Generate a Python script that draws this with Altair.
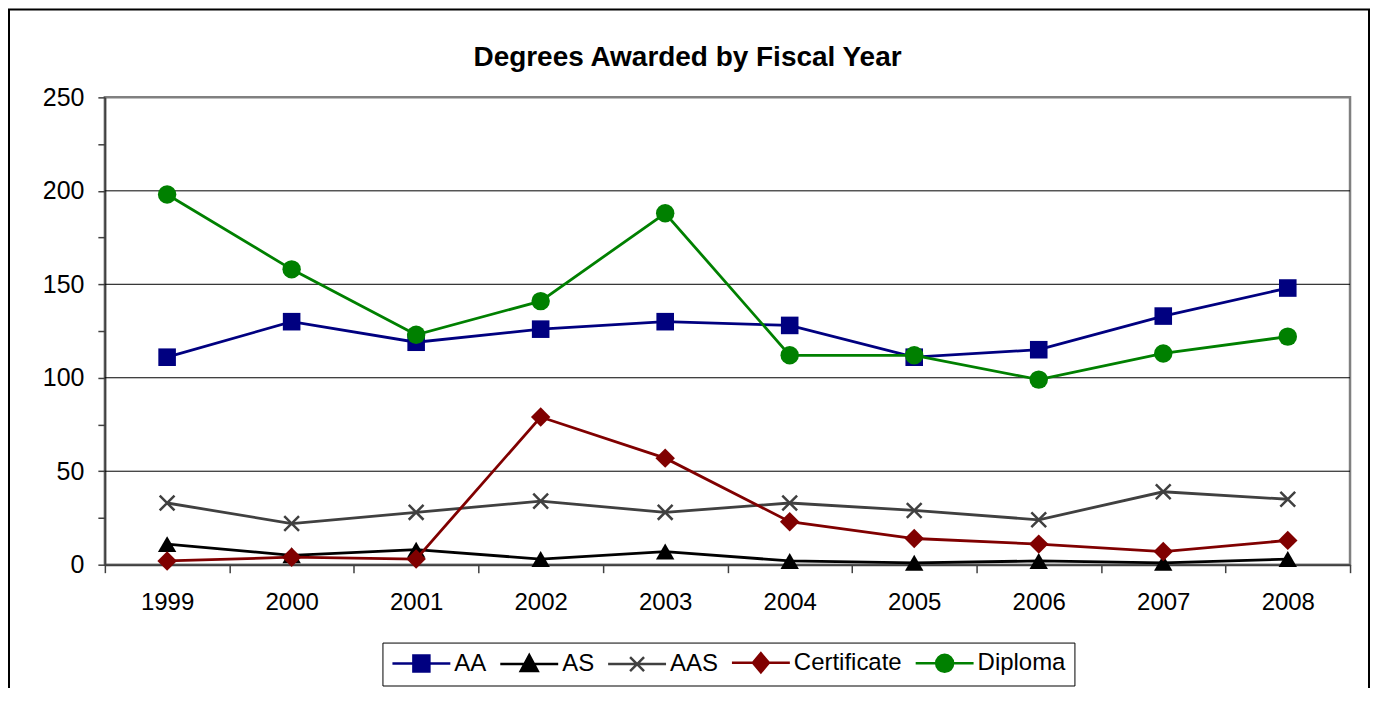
import altair as alt
import pandas as pd

years = [1999, 2000, 2001, 2002, 2003, 2004, 2005, 2006, 2007, 2008]
series_names = ["AA", "AS", "AAS", "Certificate", "Diploma"]
aa = [111, 130, 119, 126, 130, 128, 111, 115, 133, 148]
as_ = [11, 5, 8, 3, 7, 2, 1, 2, 1, 3]
aas = [33, 22, 28, 34, 28, 33, 29, 24, 39, 35]
certificate = [2, 4, 3, 79, 57, 23, 14, 11, 7, 13]
diploma = [198, 158, 123, 141, 188, 112, 112, 99, 113, 122]
grid_values = [50, 100, 150, 200]
x_tick_values = [1998.5, 1999.5, 2000.5, 2001.5, 2002.5, 2003.5, 2004.5, 2005.5, 2006.5, 2007.5, 2008.5]
y_tick_values = [0, 25, 50, 75, 100, 125, 150, 175, 200, 225, 250]

colors = ["#000080", "#000000", "#404040", "#800000", "#008000"]
X_PATH = "M-1,-1L1,1M-1,1L1,-1"
point_shapes = ["square", "triangle-up", X_PATH, "diamond", "circle"]
point_sizes = [310, 340, 220, 380, 340]
point_filled = [True, True, False, True, True]

legend_paths = [
    "M-2.9,0L2.9,0M-0.8,-0.8L0.8,-0.8L0.8,0.8L-0.8,0.8Z",
    "M-2.9,0L2.9,0M0,-0.9L0.85,0.7L-0.85,0.7Z",
    "M-2.9,0L2.9,0M-0.7,-0.7L0.7,0.7M-0.7,0.7L0.7,-0.7",
    "M-2.9,0L2.9,0M0,-0.95L0.8,0L0,0.95L-0.8,0Z",
    "M-2.9,0L2.9,0M0.85,0A0.85,0.85 0 1,1 -0.85,0A0.85,0.85 0 1,1 0.85,0Z",
]

values = [aa, as_, aas, certificate, diploma]
rows = []
for name, vals in zip(series_names, values):
    for yr, v in zip(years, vals):
        rows.append({"year": yr, "series": name, "value": v})
df = pd.DataFrame(rows)

FONT = "Liberation Sans"
W, H = 1247, 468
BAND = W / 10

x_enc = alt.X(
    "year:Q",
    scale=alt.Scale(domain=[1998.5, 2008.5], nice=False, zero=False),
    axis=alt.Axis(
        values=x_tick_values,
        labelExpr="datum.value < 2008 ? toString(datum.value + 0.5) : ''",
        labelOffset=BAND / 2,
        labelAlign="center",
        labelBound=False,
        labelFlush=False,
        labelOverlap=False,
        labelFont=FONT,
        labelFontSize=24,
        labelColor="#000000",
        labelPadding=18,
        tickSize=8,
        tickColor="#404040",
        tickWidth=1.5,
        domainColor="#404040",
        domainWidth=2,
        grid=False,
        title=None,
    ),
)
y_enc = alt.Y(
    "value:Q",
    scale=alt.Scale(domain=[0, 250], nice=False),
    axis=alt.Axis(
        values=y_tick_values,
        labelExpr="datum.value % 50 == 0 ? datum.label : ''",
        labelFont=FONT,
        labelFontSize=25,
        labelColor="#000000",
        labelPadding=14,
        labelOverlap=False,
        labelBound=False,
        labelFlush=False,
        tickSize=7,
        tickColor="#404040",
        tickWidth=1.5,
        domainColor="#404040",
        domainWidth=2,
        grid=False,
        title=None,
    ),
)

frame = alt.Chart(pd.DataFrame({"k": [0]})).mark_rect(
    fill="transparent", stroke="#000000", strokeWidth=2, clip=False
).encode(
    x=alt.value(-96), x2=alt.value(1266), y=alt.value(-88), y2=alt.value(700)
)

grid = alt.Chart(pd.DataFrame({"value": grid_values})).mark_rule(
    color="#000000", strokeWidth=1
).encode(y=y_enc)

layers = [frame, grid]
for name, col, shp, sz, fl in zip(series_names, colors, point_shapes, point_sizes, point_filled):
    base = alt.Chart(df).transform_filter(alt.datum.series == name)
    layers.append(base.mark_line(color=col, strokeWidth=2.8).encode(x=x_enc, y=y_enc))
    layers.append(
        base.mark_point(shape=shp, size=sz, filled=fl, color=col, opacity=1, strokeWidth=2.5)
        .encode(x=x_enc, y=y_enc)
    )

legend = alt.Legend(
    title=None,
    orient="none",
    legendX=278,
    legendY=546,
    direction="horizontal",
    columns=5,
    symbolSize=400,
    symbolStrokeWidth=2.5,
    symbolOffset=19,
    symbolOpacity=1,
    labelOffset=21,
    labelFont=FONT,
    labelFontSize=24,
    labelColor="#000000",
    labelLimit=400,
    columnPadding=8,
    padding=8,
    strokeColor="#000000",
    fillColor="#ffffff",
)
scale_fill = alt.Scale(domain=series_names, range=colors)
legend_layer = alt.Chart(df).transform_filter("false").mark_point(
    filled=True, strokeWidth=2.5
).encode(
    x=x_enc,
    y=y_enc,
    fill=alt.Fill("series:N", scale=scale_fill, legend=legend, sort=series_names),
    stroke=alt.Stroke("series:N", scale=alt.Scale(domain=series_names, range=colors), legend=legend, sort=series_names),
    shape=alt.Shape("series:N", scale=alt.Scale(domain=series_names, range=legend_paths), legend=legend, sort=series_names),
)
layers.append(legend_layer)

chart = alt.layer(*layers).properties(
    width=W,
    height=H,
    title=alt.TitleParams(
        "Degrees Awarded by Fiscal Year",
        font=FONT,
        fontSize=28,
        fontWeight="bold",
        color="#000000",
        anchor="middle",
        baseline="alphabetic",
        dx=-40,
        dy=86,
        offset=0,
    ),
    autosize=alt.AutoSizeParams(type="none"),
    padding={"left": 97, "top": 89, "right": 21, "bottom": 123},
    background="#ffffff",
).configure_view(stroke="#808080", strokeWidth=2.5)

chart.save("out.html", embed_options={"renderer": "svg", "actions": False})
